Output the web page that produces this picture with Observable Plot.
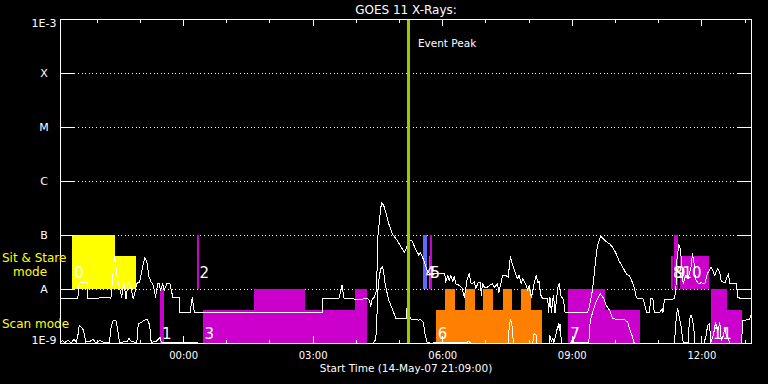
<!DOCTYPE html>
<html><head><meta charset="utf-8">
<script src="https://cdn.jsdelivr.net/npm/d3@7"></script>
<script src="https://cdn.jsdelivr.net/npm/@observablehq/plot@0.6"></script>
<style>
html,body{margin:0;padding:0;background:#000;overflow:hidden;}
#chart svg{display:block;}
</style>
</head><body><div id="chart"></div>
<script>
// ---- data ----
const titleText = "GOES 11 X-Rays:";
const startLabel = "14-May-07 21:09:00";
const startMs = Date.UTC(2007, 4, 14, 21, 9, 0);
const spanMinutes = 960;
const peakMinute = 484; // 05:13

const levelValues = [1e-3, 1e-4, 1e-5, 1e-6, 1e-7, 1e-8, 1e-9];
const levelLabels = ["1E-3", "X", "M", "C", "B", "A", "1E-9"];

// GOES long channel (minutes after start, W/m^2)
const longMinutes = [0,24,26,37,38,52,54,69,70,75,79,82,85,88,91,94,97,101,104,106,110,113,117,120,123,126,129,132,135,137,139,142,144,148,152,156,165,166,180,183,186,364,364,368,387,391,394,407,415,426,429,431,433,436,439,441,444,446,449,452,456,461,468,473,478,481,484,488,493,498,500,505,510,514,534,535,538,540,542,545,547,549,554,558,561,563,565,568,570,572,575,577,580,583,585,586,589,593,597,600,603,607,609,612,614,619,622,625,627,629,633,635,637,640,642,647,649,651,654,656,658,661,663,665,667,670,677,678,680,682,684,685,687,691,693,695,698,700,701,732,734,739,742,744,746,749,751,753,758,763,767,772,776,781,786,790,794,797,800,802,809,811,814,818,820,823,825,832,836,837,839,853,855,856,859,861,863,865,867,869,872,874,876,878,880,882,886,890,895,899,904,909,913,916,918,923,927,928,930,939,941,946,960];
const longFlux = [6.7e-9,6.7e-9,1.33e-8,1.33e-8,6.7e-9,6.7e-9,7.0e-9,7.0e-9,6.7e-9,4.3e-8,1.6e-8,1.1e-8,7.2e-9,1.37e-8,6.7e-9,1.37e-8,1.2e-8,6.7e-9,9.6e-9,1.3e-8,1.37e-8,2.25e-8,3.9e-8,3.2e-8,1.7e-8,1.37e-8,1.2e-8,7.2e-9,1.28e-8,1.3e-8,9.6e-9,1.3e-8,9.6e-9,1.3e-8,1.3e-8,7.2e-9,7.2e-9,3.7e-9,3.7e-9,7.2e-9,3.7e-9,3.7e-9,6.7e-9,6.9e-9,6.9e-9,1.22e-8,6.9e-9,6.7e-9,6.5e-9,6.9e-9,6.3e-9,4.9e-9,6.5e-9,7.2e-9,9.6e-9,1e-7,2.5e-7,4.1e-7,3.6e-7,2.7e-7,1.65e-7,1.07e-7,8.1e-8,6.1e-8,4.9e-8,6.1e-8,8.3e-8,8.1e-8,5.7e-8,4.3e-8,4.9e-8,3.4e-8,2.1e-8,1.95e-8,1.95e-8,1.33e-8,1.82e-8,1.47e-8,1.82e-8,1.41e-8,1.76e-8,1.28e-8,1.19e-8,1.06e-8,7.2e-9,1.05e-8,1.58e-8,1.95e-8,1.33e-8,1.28e-8,1.41e-8,1.03e-8,1.33e-8,1.33e-8,7.7e-9,1.3e-8,1.1e-8,1.1e-8,1.22e-8,1.28e-8,1.1e-8,1.28e-8,8.9e-9,1.33e-8,1.82e-8,1.82e-8,1.67e-8,4.1e-8,3.2e-8,2.6e-8,1.82e-8,1.58e-8,1.82e-8,1.28e-8,1.58e-8,1.19e-8,9.6e-9,1.19e-8,7.2e-9,8.9e-9,1.28e-8,1.82e-8,1.35e-8,1.41e-8,8e-9,6.7e-9,6.7e-9,3.8e-9,7.2e-9,3.8e-9,6.7e-9,7.7e-9,3.7e-9,1.1e-8,1.28e-8,7.7e-9,6.7e-9,5.1e-9,3.7e-9,3.7e-9,4.4e-9,9.6e-9,2.25e-8,4.0e-8,6.5e-8,8.7e-8,9.7e-8,8.9e-8,7.7e-8,7.0e-8,6.1e-8,4.6e-8,3.4e-8,2.6e-8,1.95e-8,1.82e-8,1.41e-8,1.1e-8,7.2e-9,6.7e-9,6.7e-9,5.8e-9,3.8e-9,3.7e-9,6.7e-9,6.7e-9,3.7e-9,3.7e-9,4.4e-9,3.7e-9,6.5e-9,6.7e-9,1.03e-8,3.2e-8,6.7e-8,5.7e-8,3.2e-8,1.28e-8,1.58e-8,1.82e-8,1.58e-8,2.1e-8,2.6e-8,4.6e-8,3.2e-8,1.58e-8,1.28e-8,1.33e-8,1.28e-8,2.0e-8,2.6e-8,1.82e-8,2.5e-8,2.05e-8,1.41e-8,1.33e-8,1.82e-8,1.95e-8,1.28e-8,1.28e-8,7.2e-9,6.7e-9,6.7e-9];

// GOES short channel
const shortMinutes = [0,3,6,10,15,19,22,25,26,28,31,33,35,41,45,49,55,61,68,70,73,77,80,82,93,95,98,106,108,113,115,121,124,126,133,139,140,159,194,435,438,439,441,443,445,447,449,450,453,456,461,466,480,481,483,486,498,500,504,506,509,514,564,567,570,622,623,625,627,628,630,656,658,661,662,679,680,682,684,685,688,690,692,693,694,696,709,712,713,734,736,738,741,744,747,750,752,755,758,763,767,783,788,790,794,797,853,855,857,858,860,862,865,872,873,874,876,878,880,881,894,897,899,902,903,907,910,913,916,918,921,923,925,930,946,948,957,959,960];
const shortFlux = [1.04e-9,1.14e-9,1.04e-9,1.14e-9,1.04e-9,1.2e-9,1.04e-9,1.62e-9,2.2e-9,2.05e-9,1.87e-9,1.53e-9,1.06e-9,1.1e-9,1.2e-9,1.04e-9,1.14e-9,1.04e-9,1.04e-9,1.87e-9,2.67e-9,2.67e-9,1.62e-9,1.04e-9,1.1e-9,1.25e-9,1.1e-9,1.04e-9,2.3e-9,2.5e-9,2.67e-9,2.78e-9,2.15e-9,1.04e-9,1.1e-9,1.31e-9,1.04e-9,1.04e-9,1.02e-9,1.02e-9,1.2e-9,2.0e-9,9.6e-9,1.82e-8,2.4e-8,2.67e-8,2.25e-8,1.47e-8,9.6e-9,6.3e-9,4.4e-9,2.86e-9,2.86e-9,4.4e-9,4.6e-9,2.86e-9,2.7e-9,2.78e-9,2.48e-9,1.62e-9,1.06e-9,1.02e-9,1.04e-9,1.1e-9,1.02e-9,1.02e-9,1.7e-9,2.78e-9,2.48e-9,1.41e-9,1.02e-9,1.02e-9,1.53e-9,1.41e-9,1.02e-9,1.02e-9,1.41e-9,1.1e-9,1.24e-9,1.02e-9,1.41e-9,1.87e-9,2.32e-9,1.7e-9,2.32e-9,1.02e-9,1.02e-9,1.31e-9,1.02e-9,1.06e-9,2.67e-9,3.3e-9,4.4e-9,5.8e-9,7.2e-9,8.3e-9,7.7e-9,6.7e-9,5.1e-9,4.1e-9,2.86e-9,2.78e-9,2.48e-9,2.0e-9,1.41e-9,1.02e-9,1.02e-9,2.48e-9,4.4e-9,4.1e-9,2.86e-9,2.15e-9,1.06e-9,1.02e-9,1.87e-9,2.86e-9,3.3e-9,2.86e-9,1.87e-9,1.02e-9,1.02e-9,1.41e-9,2.15e-9,2.32e-9,1.02e-9,1.41e-9,2.45e-9,1.7e-9,2.45e-9,1.14e-9,1.41e-9,2.0e-9,1.41e-9,1.02e-9,1.02e-9,2.67e-9,2.78e-9,3.3e-9,3.3e-9];

// observation blocks
const blockStart = [17,76,139,191,198,269,340,410,505,512,514,522,535,562,588,615,641,706,757,849,853,862,904,927];
const blockEnd   = [76,105,144,193,269,340,410,426,510,514,517,669,549,576,602,628,655,757,806,851,858,901,927,948];
const blockLow   = [1e-8,1e-8,1e-9,1e-8,1e-9,1e-9,1e-9,1e-9,1e-8,1e-8,1e-8,1e-9,1e-9,1e-9,1e-9,1e-9,1e-9,1e-9,1e-9,1e-8,1e-8,1e-8,1e-9,1e-9];
const blockHigh  = [1e-7,4e-8,1e-8,1e-7,4e-9,1e-8,4e-9,1e-8,1e-7,4e-8,1e-7,4e-9,1e-8,1e-8,1e-8,1e-8,1e-8,1e-8,4e-9,4e-8,1e-7,4e-8,1e-8,4e-9];
const blockStudy = ["A","A","B","B","B","B","B","B","C","C","B","D","D","D","D","D","D","B","B","B","B","B","B","B"];
const studyNames = ["A","B","C","D"];
const studyColors = ["#ffff00","#cc00cc","#6666ff","#ff8000"];

// block numbers
const labelText   = ["0","1","2","3","4","5","6","7","8","9","10","11"];
const labelMinute = [17,139,191,198,505,512,522,706,849,853,862,904];
const labelMode   = ["sit","scan","sit","scan","sit","sit","scan","scan","sit","sit","sit","scan"];
const modeLevel   = {sit: 2.0e-8, scan: 1.47e-9};

// ---- build ----
const toDate = m => new Date(startMs + m * 60000);
const longData = longMinutes.map((m, i) => ({t: toDate(m), v: longFlux[i]}));
const shortData = shortMinutes.map((m, i) => ({t: toDate(m), v: shortFlux[i]}));
const blocks = blockStart.map((s, i) => ({x1: toDate(s), x2: toDate(blockEnd[i]), y1: blockLow[i], y2: blockHigh[i], study: blockStudy[i]}));
const labels = labelText.map((t, i) => ({text: t, t: toDate(labelMinute[i]), v: modeLevel[labelMode[i]]}));
const hours = d3.utcHour.range(toDate(0), toDate(spanMinutes + 1));
const majorHours = hours.filter(d => d.getUTCHours() % 3 === 0);
const minorHours = hours.filter(d => d.getUTCHours() % 3 !== 0);
const innerLevels = levelValues.slice(1, 6);
const fmtLevel = d => levelLabels[levelValues.indexOf(d)];

const W = 768, H = 384, mL = 60, mR = 17, mT = 19, mB = 41;
const fw = W - mL - mR, fh = H - mT - mB;
const white = "#fff";
const crisp = "crispEdges";

const chart = Plot.plot({
  width: W, height: H,
  marginLeft: mL, marginRight: mR, marginTop: mT, marginBottom: mB,
  style: {background: "#000", color: white, fontFamily: "DejaVu Sans, sans-serif", fontSize: "11px"},
  x: {type: "utc", domain: [toDate(0), toDate(spanMinutes)]},
  y: {type: "log", domain: [1e-9, 1e-3]},
  color: {domain: studyNames, range: studyColors},
  marks: [
    Plot.ruleY(innerLevels, {stroke: white, strokeDasharray: "1 2.6", shapeRendering: crisp}),
    Plot.rect(blocks, {x1: "x1", x2: "x2", y1: "y1", y2: "y2", fill: "study", shapeRendering: crisp}),
    Plot.line(longData, {x: "t", y: "v", stroke: white, strokeWidth: 1, shapeRendering: crisp}),
    Plot.line(shortData, {x: "t", y: "v", stroke: white, strokeWidth: 1, shapeRendering: crisp}),
    Plot.ruleX([toDate(peakMinute)], {stroke: "#99cc00", strokeWidth: 3, shapeRendering: crisp}),
    Plot.text(labels, {x: "t", y: "v", text: "text", textAnchor: "start", dx: 1.5, fill: white, fontSize: 15}),
    Plot.frame({stroke: white, shapeRendering: crisp}),
    Plot.tickY(innerLevels, {stroke: white, insetRight: fw - 14, shapeRendering: crisp}),
    Plot.tickY(innerLevels, {stroke: white, insetLeft: fw - 14, shapeRendering: crisp}),
    Plot.tickX(majorHours, {stroke: white, insetBottom: fh - 7, shapeRendering: crisp}),
    Plot.tickX(minorHours, {stroke: white, insetBottom: fh - 3.5, shapeRendering: crisp}),
    Plot.tickX(majorHours, {stroke: white, insetTop: fh - 7, shapeRendering: crisp}),
    Plot.tickX(minorHours, {stroke: white, insetTop: fh - 3.5, shapeRendering: crisp}),
    Plot.axisX(majorHours, {tickSize: 0, tickPadding: 8.7, tickFormat: d3.utcFormat("%H:%M"), fontSize: 10, fill: white, label: null}),
    Plot.axisY(innerLevels, {tickSize: 0, tickPadding: 16.5, textAnchor: "middle", tickFormat: fmtLevel, fontSize: 11, fill: white, label: null}),
    Plot.axisY([1e-3], {tickSize: 0, tickPadding: 16.5, textAnchor: "middle", tickFormat: fmtLevel, fontSize: 11, fill: white, label: null, dy: 4}),
    Plot.axisY([1e-9], {tickSize: 0, tickPadding: 16.5, textAnchor: "middle", tickFormat: fmtLevel, fontSize: 11, fill: white, label: null, dy: -3}),
    Plot.text([titleText], {frameAnchor: "top", lineAnchor: "top", dy: -14, fill: white, fontSize: 12}),
    Plot.text([`Start Time (${startLabel})`], {frameAnchor: "bottom", lineAnchor: "top", dy: 21, fill: white, fontSize: 10.5}),
    Plot.text([peakMinute], {x: m => toDate(m), text: () => "Event Peak", frameAnchor: "top", lineAnchor: "top", textAnchor: "start", dx: 9, dy: 20.3, fill: white, fontSize: 10.5}),
    Plot.text(["Sit & Stare"], {frameAnchor: "top-left", textAnchor: "start", lineAnchor: "top", dx: -58.5, dy: 234.3, fill: "#ffff00", fontSize: 12}),
    Plot.text(["mode"], {frameAnchor: "top-left", textAnchor: "start", lineAnchor: "top", dx: -47.5, dy: 247.7, fill: "#ffff00", fontSize: 12}),
    Plot.text(["Scan mode"], {frameAnchor: "top-left", textAnchor: "start", lineAnchor: "top", dx: -58.5, dy: 300.3, fill: "#ffff00", fontSize: 12})
  ]
});
document.getElementById("chart").appendChild(chart);
</script>
</body></html>
